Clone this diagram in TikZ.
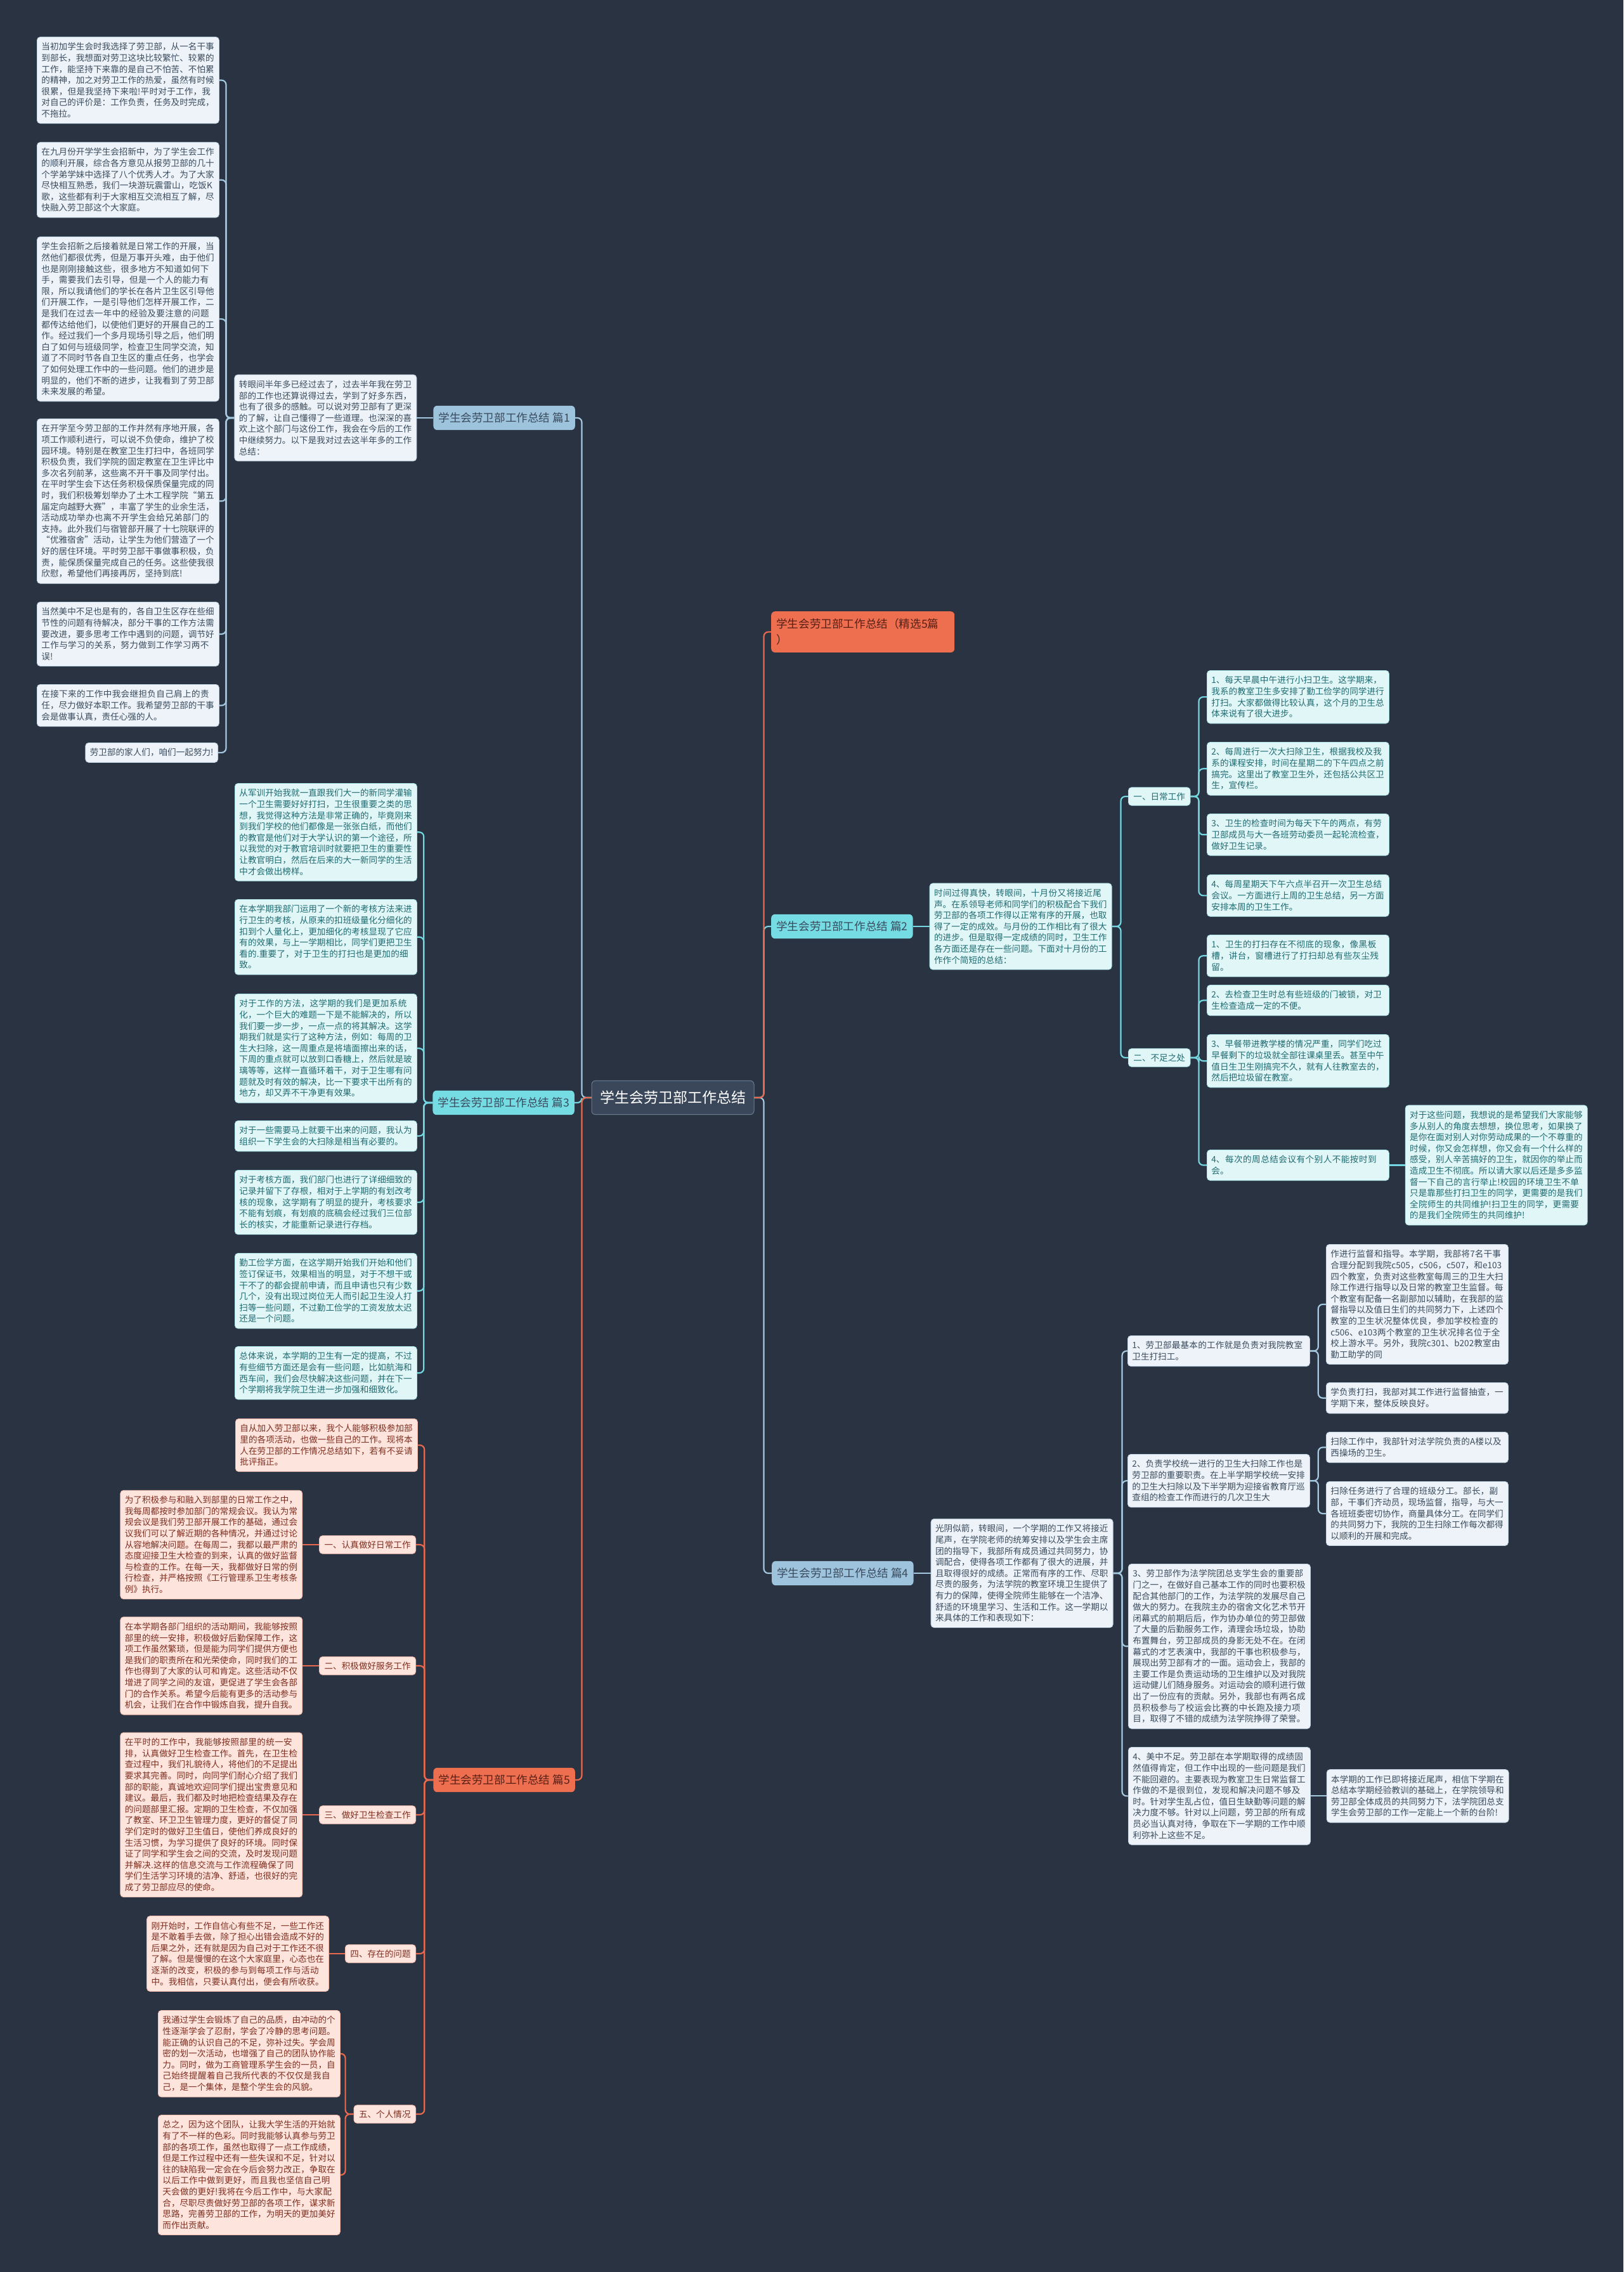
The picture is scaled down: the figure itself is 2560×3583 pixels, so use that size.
\documentclass[tikz,border=0pt]{standalone}
\usepackage{fontspec}
\setmainfont{Noto Sans CJK SC}
\XeTeXlinebreaklocale "zh"
\XeTeXlinebreakskip=0pt plus 1pt
\XeTeXinterchartokenstate=1
\XeTeXinterchartoks 1 3 = {\penalty0\relax}
\XeTeXinterchartoks 3 1 = {\penalty0\relax}
\XeTeXinterchartoks 3 3 = {\penalty0\relax}
\XeTeXinterchartoks 0 3 = {\penalty0\relax}
\usetikzlibrary{positioning}

\definecolor{bgc}{HTML}{2A3342}
\definecolor{rootfill}{HTML}{3A4659}
\definecolor{rootedge}{HTML}{6A7C94}
\definecolor{bluefill}{HTML}{9DC3DD}
\definecolor{blueline}{HTML}{A4C8E0}
\definecolor{bluepale}{HTML}{EDF3F8}
\definecolor{blueedge}{HTML}{BFD3E3}
\definecolor{bluetext}{HTML}{3A4B5D}
\definecolor{cyanfill}{HTML}{76DCE4}
\definecolor{cyanline}{HTML}{73D6E0}
\definecolor{cyanpale}{HTML}{E1F6F7}
\definecolor{cyanedge}{HTML}{A9E3E8}
\definecolor{cyantext}{HTML}{1E6B71}
\definecolor{redfill}{HTML}{EE6E50}
\definecolor{redline}{HTML}{E8694E}
\definecolor{redpale}{HTML}{FDE4DD}
\definecolor{rededge}{HTML}{F2B9AA}
\definecolor{redtext}{HTML}{7E2E1F}

\newcommand{\leaffont}{\fontsize{13.6pt}{17.6pt}\selectfont}
\newcommand{\topicfont}{\fontsize{17.6pt}{25pt}\selectfont}
\newcommand{\rootfont}{\fontsize{23pt}{28pt}\selectfont}

\tikzset{
  box/.style={rounded corners=5pt,line width=0.8pt,inner xsep=7pt,inner ysep=9pt,font=\leaffont},
  bluebox/.style={box,draw=blueedge,fill=bluepale,text=bluetext},
  cyanbox/.style={box,draw=cyanedge,fill=cyanpale,text=cyantext},
  redbox/.style={box,draw=rededge,fill=redpale,text=redtext},
  blueleaf/.style={bluebox,text width=273pt,align=left},
  cyanleaf/.style={cyanbox,text width=273pt,align=left},
  redleaf/.style={redbox,text width=273pt,align=left},
  sub/.style={inner xsep=8pt,inner ysep=8pt},
  topic/.style={rounded corners=6pt,inner xsep=8pt,inner ysep=11pt,font=\topicfont},
  bluelink/.style={draw=blueline,line width=2.2pt,rounded corners=7pt},
  cyanlink/.style={draw=cyanline,line width=2.2pt,rounded corners=7pt},
  redlink/.style={draw=redline,line width=2.2pt,rounded corners=7pt},
}

\begin{document}
\begin{tikzpicture}[x=1pt,y=-1pt]
\fill[bgc] (0,0) rectangle (2560,3583);
\useasboundingbox (0,0) rectangle (2560,3583);

\node[rounded corners=6pt,fill=rootfill,draw=rootedge,line width=1pt,text=white,font=\rootfont,inner xsep=13pt,inner ysep=16pt] (root) at (1061,1731) {学生会劳卫部工作总结};

% 篇1
\node[topic,fill=bluefill,text=bluetext,anchor=east] (p1) at (907,659) {学生会劳卫部工作总结 篇1};
\node[blueleaf,left=26pt of p1] (i1) {转眼间半年多已经过去了，过去半年我在劳卫部的工作也还算说得过去，学到了好多东西，也有了很多的感触。可以说对劳卫部有了更深的了解，让自己懂得了一些道理。也深深的喜欢上这个部门与这份工作，我会在今后的工作中继续努力。以下是我对过去这半年多的工作总结：};
\node[blueleaf,anchor=north west] (l1) at (58,58) {当初加学生会时我选择了劳卫部，从一名干事到部长，我想面对劳卫这块比较繁忙、较累的工作，能坚持下来靠的是自己不怕苦、不怕累的精神，加之对劳卫工作的热爱，虽然有时候很累，但是我坚持下来啦!平时对于工作，我对自己的评价是：工作负责，任务及时完成，不拖拉。};
\node[blueleaf,anchor=north west] (l2) at (58,224) {在九月份开学学生会招新中，为了学生会工作的顺利开展，综合各方意见从报劳卫部的几十个学弟学妹中选择了八个优秀人才。为了大家尽快相互熟悉，我们一块游玩震雷山，吃饭K歌，这些都有利于大家相互交流相互了解，尽快融入劳卫部这个大家庭。};
\node[blueleaf,anchor=north west] (l3) at (58,373) {学生会招新之后接着就是日常工作的开展，当然他们都很优秀，但是万事开头难，由于他们也是刚刚接触这些，很多地方不知道如何下手，需要我们去引导，但是一个人的能力有限，所以我请他们的学长在各片卫生区引导他们开展工作，一是引导他们怎样开展工作，二是我们在过去一年中的经验及要注意的问题都传达给他们，以使他们更好的开展自己的工作。经过我们一个多月现场引导之后，他们明白了如何与班级同学，检查卫生同学交流，知道了不同时节各自卫生区的重点任务，也学会了如何处理工作中的一些问题。他们的进步是明显的，他们不断的进步，让我看到了劳卫部未来发展的希望。};
\node[blueleaf,anchor=north west] (l4) at (58,660) {在开学至今劳卫部的工作井然有序地开展，各项工作顺利进行，可以说不负使命，维护了校园环境。特别是在教室卫生打扫中，各班同学积极负责，我们学院的固定教室在卫生评比中多次名列前茅，这些离不开干事及同学付出。在平时学生会下达任务积极保质保量完成的同时，我们积极筹划举办了土木工程学院“第五届定向越野大赛”，丰富了学生的业余生活，活动成功举办也离不开学生会给兄弟部门的支持。此外我们与宿管部开展了十七院联评的“优雅宿舍”活动，让学生为他们营造了一个好的居住环境。平时劳卫部干事做事积极，负责，能保质保量完成自己的任务。这些使我很欣慰，希望他们再接再厉，坚持到底!};
\node[blueleaf,anchor=north west] (l5) at (58,949) {当然美中不足也是有的，各自卫生区存在些细节性的问题有待解决，部分干事的工作方法需要改进，要多思考工作中遇到的问题，调节好工作与学习的关系，努力做到工作学习两不误!};
\node[blueleaf,anchor=north west] (l6) at (58,1079) {在接下来的工作中我会继担负自己肩上的责任，尽力做好本职工作。我希望劳卫部的干事会是做事认真，责任心强的人。};
\node[bluebox,anchor=north east] (l7) at (344,1171) {劳卫部的家人们，咱们一起努力!};

% 篇3
\node[topic,fill=cyanfill,text=bluetext,anchor=east] (p3) at (906,1739) {学生会劳卫部工作总结 篇3};
\node[cyanleaf,anchor=north west] (t1) at (370,1235) {从军训开始我就一直跟我们大一的新同学灌输一个卫生需要好好打扫，卫生很重要之类的思想，我觉得这种方法是非常正确的，毕竟刚来到我们学校的他们都像是一张张白纸，而他们的教官是他们对于大学认识的第一个途径，所以我觉的对于教官培训时就要把卫生的重要性让教官明白，然后在后来的大一新同学的生活中才会做出榜样。};
\node[cyanleaf,anchor=north west] (t2) at (370,1418) {在本学期我部门运用了一个新的考核方法来进行卫生的考核，从原来的扣班级量化分细化的扣到个人量化上，更加细化的考核显现了它应有的效果，与上一学期相比，同学们更把卫生看的.重要了，对于卫生的打扫也是更加的细致。};
\node[cyanleaf,anchor=north west] (t3) at (370,1567) {对于工作的方法，这学期的我们是更加系统化，一个巨大的难题一下是不能解决的，所以我们要一步一步，一点一点的将其解决。这学期我们就是实行了这种方法，例如：每周的卫生大扫除，这一周重点是将墙面擦出来的话，下周的重点就可以放到口香糖上，然后就是玻璃等等，这样一直循环着干，对于卫生哪有问题就及时有效的解决，比一下要求干出所有的地方，却又弄不干净更有效果。};
\node[cyanleaf,anchor=north west] (t4) at (370,1767) {对于一些需要马上就要干出来的问题，我认为组织一下学生会的大扫除是相当有必要的。};
\node[cyanleaf,anchor=north west] (t5) at (370,1845) {对于考核方面，我们部门也进行了详细细致的记录并留下了存根，相对于上学期的有划改考核的现象，这学期有了明显的提升，考核要求不能有划痕，有划痕的底稿会经过我们三位部长的核实，才能重新记录进行存档。};
\node[cyanleaf,anchor=north west] (t6) at (370,1976) {勤工俭学方面，在这学期开始我们开始和他们签订保证书，效果相当的明显，对于不想干或干不了的都会提前申请，而且申请也只有少数几个，没有出现过岗位无人而引起卫生没人打扫等一些问题，不过勤工俭学的工资发放太迟还是一个问题。};
\node[cyanleaf,anchor=north west] (t7) at (370,2123) {总体来说，本学期的卫生有一定的提高，不过有些细节方面还是会有一些问题，比如航海和西车间，我们会尽快解决这些问题，并在下一个学期将我学院卫生进一步加强和细致化。};

% 篇5
\node[topic,fill=redfill,text=redtext!70!black,anchor=east] (p5) at (907,2807) {学生会劳卫部工作总结 篇5};
\node[redleaf,anchor=north west] (i5) at (371,2237) {自从加入劳卫部以来，我个人能够积极参加部里的各项活动，也做一些自己的工作。现将本人在劳卫部的工作情况总结如下，若有不妥请批评指正。};
\node[redbox,sub,anchor=east] (s51) at (656,2436) {一、认真做好日常工作};
\node[redleaf,left=26pt of s51] (l51) {为了积极参与和融入到部里的日常工作之中，我每周都按时参加部门的常规会议。我认为常规会议是我们劳卫部开展工作的基础，通过会议我们可以了解近期的各种情况，并通过讨论从容地解决问题。在每周二，我都以最严肃的态度迎接卫生大检查的到来，认真的做好监督与检查的工作。在每一天，我都做好日常的例行检查，并严格按照《工行管理系卫生考核条例》执行。};
\node[redbox,sub,anchor=east] (s52) at (656,2627) {二、积极做好服务工作};
\node[redleaf,left=26pt of s52] (l52) {在本学期各部门组织的活动期间，我能够按照部里的统一安排，积极做好后勤保障工作，这项工作虽然繁琐，但是能为同学们提供方便也是我们的职责所在和光荣使命，同时我们的工作也得到了大家的认可和肯定。这些活动不仅增进了同学之间的友谊，更促进了学生会各部门的合作关系。希望今后能有更多的活动参与机会，让我们在合作中锻炼自我，提升自我。};
\node[redbox,sub,anchor=east] (s53) at (656,2862) {三、做好卫生检查工作};
\node[redleaf,left=26pt of s53] (l53) {在平时的工作中，我能够按照部里的统一安排，认真做好卫生检查工作。首先，在卫生检查过程中，我们礼貌待人，将他们的不足提出要求其完善。同时，向同学们耐心介绍了我们部的职能，真诚地欢迎同学们提出宝贵意见和建议。最后，我们都及时地把检查结果及存在的问题部里汇报。定期的卫生检查，不仅加强了教室、环卫卫生管理力度，更好的督促了同学们定时的做好卫生值日，使他们养成良好的生活习惯，为学习提供了良好的环境。同时保证了同学和学生会之间的交流，及时发现问题并解决.这样的信息交流与工作流程确保了同学们生活学习环境的洁净、舒适，也很好的完成了劳卫部应尽的使命。};
\node[redbox,sub,anchor=east] (s54) at (656,3081) {四、存在的问题};
\node[redleaf,left=25pt of s54] (l54) {刚开始时，工作自信心有些不足，一些工作还是不敢着手去做，除了担心出错会造成不好的后果之外，还有就是因为自己对于工作还不很了解。但是慢慢的在这个大家庭里，心态也在逐渐的改变，积极的参与到每项工作与活动中。我相信，只要认真付出，便会有所收获。};
\node[redbox,sub,anchor=east] (s55) at (656,3334) {五、个人情况};
\node[redleaf,anchor=north west] (l55a) at (249,3170) {我通过学生会锻炼了自己的品质，由冲动的个性逐渐学会了忍耐，学会了冷静的思考问题。能正确的认识自己的不足，弥补过失。学会周密的划一次活动，也增强了自己的团队协作能力。同时，做为工商管理系学生会的一员，自己始终提醒着自己我所代表的不仅仅是我自己，是一个集体，是整个学生会的风貌。};
\node[redleaf,anchor=north west] (l55b) at (249,3335) {总之，因为这个团队，让我大学生活的开始就有了不一样的色彩。同时我能够认真参与劳卫部的各项工作，虽然也取得了一点工作成绩，但是工作过程中还有一些失误和不足，针对以往的缺陷我一定会在今后会努力改正，争取在以后工作中做到更好，而且我也坚信自己明天会做的更好!我将在今后工作中，与大家配合，尽职尽责做好劳卫部的各项工作，谋求新思路，完善劳卫部的工作，为明天的更加美好而作出贡献。};

% 精选
\node[topic,fill=redfill,text=redtext!70!black,text width=273pt,align=left,inner ysep=11.5pt,anchor=north west] (p0) at (1216,964) {学生会劳卫部工作总结（精选5篇\\）};

% 篇2
\node[topic,fill=cyanfill,text=bluetext,anchor=west] (p2) at (1216,1461) {学生会劳卫部工作总结 篇2};
\node[cyanleaf,right=26pt of p2] (i2) {时间过得真快，转眼间，十月份又将接近尾声。在系领导老师和同学们的积极配合下我们劳卫部的各项工作得以正常有序的开展，也取得了一定的成效。与月份的工作相比有了很大的进步。但是取得一定成绩的同时，卫生工作各方面还是存在一些问题。下面对十月份的工作作个简短的总结：};
\node[cyanbox,sub,anchor=west] (s21) at (1779,1256) {一、日常工作};
\node[cyanleaf,anchor=north west] (d1) at (1903,1057) {1、每天早晨中午进行小扫卫生。这学期来，我系的教室卫生多安排了勤工俭学的同学进行打扫。大家都做得比较认真，这个月的卫生总体来说有了很大进步。};
\node[cyanleaf,anchor=north west] (d2) at (1903,1170) {2、每周进行一次大扫除卫生，根据我校及我系的课程安排，时间在星期二的下午四点之前搞完。这里出了教室卫生外，还包括公共区卫生，宣传栏。};
\node[cyanleaf,anchor=north west] (d3) at (1903,1283) {3、卫生的检查时间为每天下午的两点，有劳卫部成员与大一各班劳动委员一起轮流检查，做好卫生记录。};
\node[cyanleaf,anchor=north west] (d4) at (1903,1379) {4、每周星期天下午六点半召开一次卫生总结会议。一方面进行上周的卫生总结，另一方面安排本周的卫生工作。};
\node[cyanbox,sub,anchor=west] (s22) at (1779,1668) {二、不足之处};
\node[cyanleaf,anchor=north west] (e1) at (1903,1474) {1、卫生的打扫存在不彻底的现象，像黑板槽，讲台，窗槽进行了打扫却总有些灰尘残留。};
\node[cyanleaf,anchor=north west] (e2) at (1903,1553) {2、去检查卫生时总有些班级的门被锁，对卫生检查造成一定的不便。};
\node[cyanleaf,anchor=north west] (e3) at (1903,1631) {3、早餐带进教学楼的情况严重，同学们吃过早餐剩下的垃圾就全部往课桌里丢。甚至中午值日生卫生刚搞完不久，就有人往教室去的，然后把垃圾留在教室。};
\node[cyanleaf,anchor=north west] (e4) at (1903,1813) {4、每次的周总结会议有个别人不能按时到会。};
\node[cyanleaf,right=25pt of e4] (f4) {对于这些问题，我想说的是希望我们大家能够多从别人的角度去想想，换位思考，如果换了是你在面对别人对你劳动成果的一个不尊重的时候，你又会怎样想，你又会有一个什么样的感受，别人辛苦搞好的卫生，就因你的举止而造成卫生不彻底。所以请大家以后还是多多监督一下自己的言行举止!校园的环境卫生不单只是靠那些打扫卫生的同学，更需要的是我们全院师生的共同维护!扫卫生的同学，更需要的是我们全院师生的共同维护!};

% 篇4
\node[topic,fill=bluefill,text=bluetext,anchor=west] (p4) at (1217,2481) {学生会劳卫部工作总结 篇4};
\node[blueleaf,right=27pt of p4] (i4) {光阴似箭，转眼间，一个学期的工作又将接近尾声，在学院老师的统筹安排以及学生会主席团的指导下，我部所有成员通过共同努力，协调配合，使得各项工作都有了很大的进展，并且取得很好的成绩。正常而有序的工作、尽职尽责的服务，为法学院的教室环境卫生提供了有力的保障，使得全院师生能够在一个洁净、舒适的环境里学习、生活和工作。这一学期以来具体的工作和表现如下：};
\node[blueleaf,anchor=north west] (g1) at (1778,2106) {1、劳卫部最基本的工作就是负责对我院教室卫生打扫工。};
\node[blueleaf,anchor=north west] (g1a) at (2091,1962) {作进行监督和指导。本学期，我部将7名干事合理分配到我院c505，c506，c507，和e103四个教室，负责对这些教室每周三的卫生大扫除工作进行指导以及日常的教室卫生监督。每个教室有配备一名副部加以辅助，在我部的监督指导以及值日生们的共同努力下，上述四个教室的卫生状况整体优良，参加学校检查的c506、e103两个教室的卫生状况排名位于全校上游水平。另外，我院c301、b202教室由勤工助学的同};
\node[blueleaf,anchor=north west] (g1b) at (2091,2180) {学负责打扫，我部对其工作进行监督抽查，一学期下来，整体反映良好。};
\node[blueleaf,anchor=north west] (g2) at (1778,2293) {2、负责学校统一进行的卫生大扫除工作也是劳卫部的重要职责。在上半学期学校统一安排的卫生大扫除以及下半学期为迎接省教育厅巡查组的检查工作而进行的几次卫生大};
\node[blueleaf,anchor=north west] (g2a) at (2091,2258) {扫除工作中，我部针对法学院负责的A楼以及西操场的卫生。};
\node[blueleaf,anchor=north west] (g2b) at (2091,2336) {扫除任务进行了合理的班级分工。部长，副部，干事们齐动员，现场监督，指导，与大一各班班委密切协作，商量具体分工。在同学们的共同努力下，我院的卫生扫除工作每次都得以顺利的开展和完成。};
\node[blueleaf,anchor=north west] (g3) at (1779,2466) {3、劳卫部作为法学院团总支学生会的重要部门之一，在做好自己基本工作的同时也要积极配合其他部门的工作，为法学院的发展尽自己做大的努力。在我院主办的宿舍文化艺术节开闭幕式的前期后后，作为协办单位的劳卫部做了大量的后勤服务工作，清理会场垃圾，协助布置舞台，劳卫部成员的身影无处不在。在闭幕式的才艺表演中，我部的干事也积极参与，展现出劳卫部有才的一面。运动会上，我部的主要工作是负责运动场的卫生维护以及对我院运动健儿们随身服务。对运动会的顺利进行做出了一份应有的贡献。另外，我部也有两名成员积极参与了校运会比赛的中长跑及接力项目，取得了不错的成绩为法学院挣得了荣誉。};
\node[blueleaf,anchor=north west] (g4) at (1779,2755) {4、美中不足。劳卫部在本学期取得的成绩固然值得肯定，但工作中出现的一些问题是我们不能回避的。主要表现为教室卫生日常监督工作做的不是很到位，发现和解决问题不够及时。针对学生乱占位，值日生缺勤等问题的解决力度不够。针对以上问题，劳卫部的所有成员必当认真对待，争取在下一学期的工作中顺利弥补上这些不足。};
\node[blueleaf,right=25pt of g4] (g4a) {本学期的工作已即将接近尾声，相信下学期在总结本学期经验教训的基础上，在学院领导和劳卫部全体成员的共同努力下，法学院团总支学生会劳卫部的工作一定能上一个新的台阶!};

% connectors
\draw[bluelink] (p1.west) -- (i1.east);
\foreach \c in {l1,l2,l3,l4,l5,l6,l7}
  \draw[bluelink] (i1.west) -- ++(-13,0) |- (\c.east);
\foreach \c in {t1,t2,t3,t4,t5,t6,t7}
  \draw[cyanlink] (p3.west) -- ++(-14,0) |- (\c.east);
\foreach \c in {i5,s51,s52,s53,s54,s55}
  \draw[redlink] (p5.west) -- ++(-14,0) |- (\c.east);
\foreach \s/\l in {s51/l51,s52/l52,s53/l53,s54/l54}
  \draw[redlink] (\s.west) -- (\l.east);
\foreach \c in {l55a,l55b}
  \draw[redlink] (s55.west) -- ++(-13,0) |- (\c.east);

\draw[cyanlink] (p2.east) -- (i2.west);
\foreach \c in {s21,s22}
  \draw[cyanlink] (i2.east) -- ++(14,0) |- (\c.west);
\foreach \c in {d1,d2,d3,d4}
  \draw[cyanlink] (s21.east) -- ++(13,0) |- (\c.west);
\foreach \c in {e1,e2,e3,e4}
  \draw[cyanlink] (s22.east) -- ++(13,0) |- (\c.west);
\draw[cyanlink] (e4.east) -- (f4.west);

\draw[bluelink] (p4.east) -- (i4.west);
\foreach \c in {g1,g2,g3,g4}
  \draw[bluelink] (i4.east) -- ++(14,0) |- (\c.west);
\foreach \c in {g1a,g1b}
  \draw[bluelink] (g1.east) -- ++(13,0) |- (\c.west);
\foreach \c in {g2a,g2b}
  \draw[bluelink] (g2.east) -- ++(13,0) |- (\c.west);
\draw[bluelink] (g4.east) -- (g4a.west);

\draw[bluelink] (root.west) -- ++(-15,0) |- (p1.east);
\draw[cyanlink] (root.west) -- ++(-15,0) |- (p3.east);
\draw[redlink] (root.west) -- ++(-15,0) |- (p5.east);
\draw[bluelink] (root.east) -- ++(15,0) |- (p4.west);
\draw[cyanlink] (root.east) -- ++(15,0) |- (p2.west);
\draw[redlink] (root.east) -- ++(15,0) |- (p0.west);
\end{tikzpicture}
\end{document}
